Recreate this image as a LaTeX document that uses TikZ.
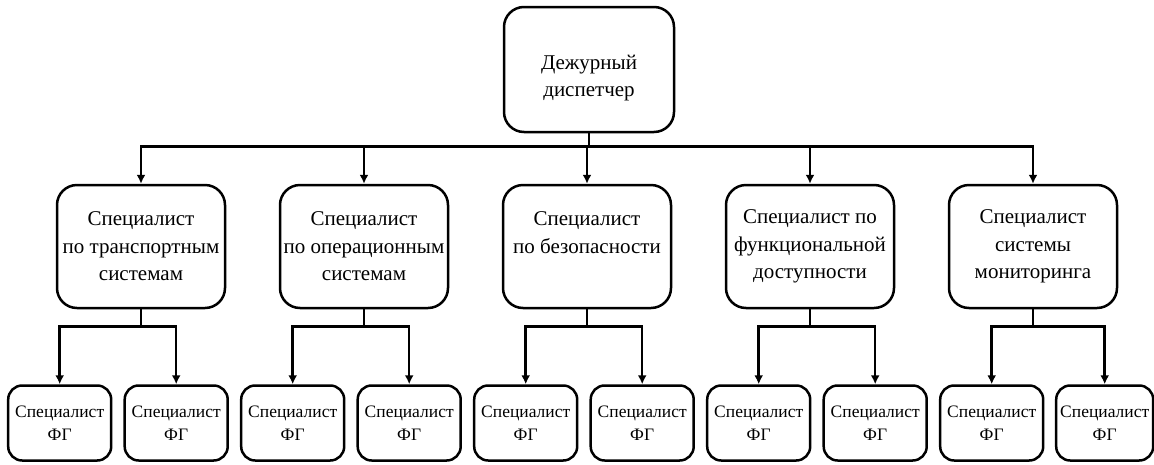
\documentclass[tikz,border=0pt]{standalone}
\usepackage{fontspec}
\setmainfont{Liberation Serif}
\usetikzlibrary{positioning, arrows.meta}
\newcommand{\boxfont}{\fontsize{21}{27.5}\selectfont}
\newcommand{\leaffont}{\fontsize{17.5}{23}\selectfont}
\tikzset{
    on grid,
    node distance=223pt,
    >={Latex[length=9pt,width=9pt]},
    box/.style={draw, line width=2.5pt, rounded corners=20pt, align=center,
        font=\boxfont, minimum width=168pt, minimum height=123pt, inner sep=0pt},
    leaf/.style={box, rounded corners=14pt, font=\leaffont,
        minimum width=103pt, minimum height=75pt},
    link/.style={->, line width=2.5pt},
}

\begin{document}
\begin{tikzpicture}
    \useasboundingbox (0,0) rectangle (1154pt,-464pt);

        \node[box, minimum width=170pt, minimum height=125pt] (duty) at (589pt,-69.5pt) {\rule{0pt}{31pt}Дежурный\\диспетчер};

        \node[box] (s1) at (141pt,-246.5pt) {Специалист\\по транспортным\\системам};
        \node[box, right=of s1] (s2) {Специалист\\по операционным\\системам};
        \node[box, right=of s2] (s3) {Специалист\\по безопасности\\~};
        \node[box, right=of s3] (s4) {Специалист по\\функциональной\\доступности};
        \node[box, right=of s4] (s5) {Специалист\\системы\\мониторинга};

        \node[leaf] (f1) at (59.7pt,-423pt) {Специалист\\ФГ};
        \node[leaf, right=116.5pt of f1] (f2) {Специалист\\ФГ};
        \node[leaf, right=116.5pt of f2] (f3) {Специалист\\ФГ};
        \node[leaf, right=116.5pt of f3] (f4) {Специалист\\ФГ};
        \node[leaf, right=116.5pt of f4] (f5) {Специалист\\ФГ};
        \node[leaf, right=116.5pt of f5] (f6) {Специалист\\ФГ};
        \node[leaf, right=116.5pt of f6] (f7) {Специалист\\ФГ};
        \node[leaf, right=116.5pt of f7] (f8) {Специалист\\ФГ};
        \node[leaf, right=116.5pt of f8] (f9) {Специалист\\ФГ};
        \node[leaf, minimum width=97pt, right=113pt of f9] (f10) {Специалист\\ФГ};

        % bus points below each box
        \coordinate (j0) at ([yshift=-13pt]duty.south);
        \coordinate (j1) at ([yshift=-17pt]s1.south);
        \coordinate (j2) at ([yshift=-17pt]s2.south);
        \coordinate (j3) at ([yshift=-17pt]s3.south);
        \coordinate (j4) at ([yshift=-17pt]s4.south);
        \coordinate (j5) at ([yshift=-17pt]s5.south);

    \draw[link] (duty.south) -- (j0) -| (s1.north);
    \draw[link] (duty.south) -- (j0) -| (s2.north);
    \draw[link] (duty.south) -- (j0) -| (s3.north);
    \draw[link] (duty.south) -- (j0) -| (s4.north);
    \draw[link] (duty.south) -- (j0) -| (s5.north);

    \draw[link] (s1.south) -- (j1) -| (f1.north);
    \draw[link] (s1.south) -- (j1) -| (f2.north);
    \draw[link] (s2.south) -- (j2) -| (f3.north);
    \draw[link] (s2.south) -- (j2) -| (f4.north);
    \draw[link] (s3.south) -- (j3) -| (f5.north);
    \draw[link] (s3.south) -- (j3) -| (f6.north);
    \draw[link] (s4.south) -- (j4) -| (f7.north);
    \draw[link] (s4.south) -- (j4) -| (f8.north);
    \draw[link] (s5.south) -- (j5) -| (f9.north);
    \draw[link] (s5.south) -- (j5) -| (f10.north);
\end{tikzpicture}
\end{document}
